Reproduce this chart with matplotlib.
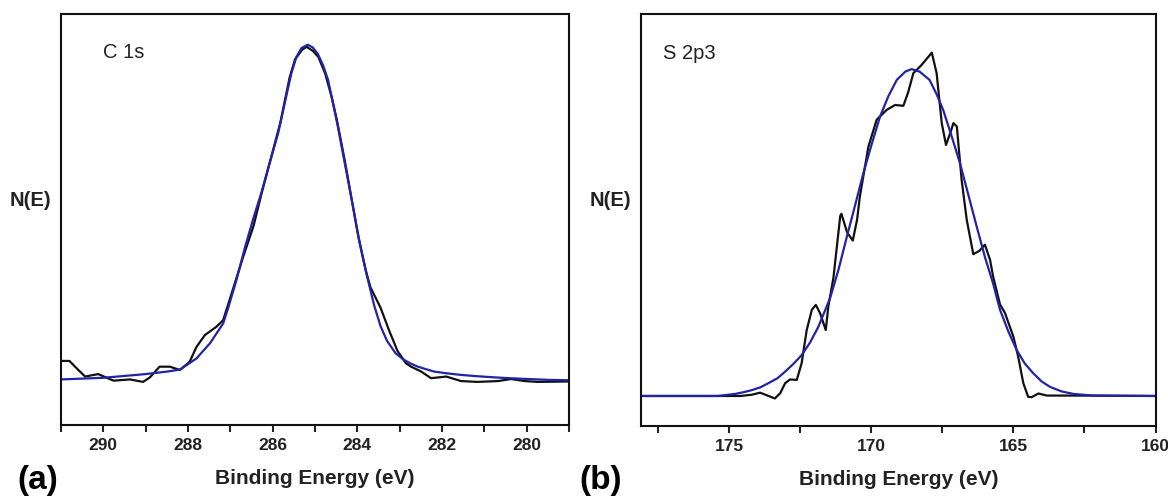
import matplotlib
matplotlib.use("Agg")
import matplotlib.pyplot as plt
from matplotlib.ticker import MultipleLocator

plt.rcParams['font.family'] = ['Liberation Sans', 'DejaVu Sans']

# C 1s: measured spectrum
c1s_be = [291.0, 290.8, 290.6, 290.43, 290.12, 289.76, 289.37, 289.06, 288.9, 288.67,
          288.43, 288.19, 287.96, 287.8, 287.6, 287.33, 287.17, 286.97, 286.71, 286.45,
          286.27, 286.0, 285.82, 285.6, 285.47, 285.3, 285.2, 285.05, 284.92, 284.76,
          284.6, 284.49, 284.3, 284.18, 283.96, 283.8, 283.69, 283.45, 283.25, 283.05,
          282.85, 282.73, 282.49, 282.26, 281.9, 281.55, 281.16, 280.68, 280.37, 280.05,
          279.74, 279.0]
c1s_raw = [15.6, 15.6, 13.5, 11.8, 12.4, 10.8, 11.1, 10.5, 11.6, 14.2,
           14.2, 13.4, 15.4, 19.0, 21.9, 23.9, 25.5, 32.0, 40.5, 48.5,
           56.0, 66.5, 73.5, 84.5, 89.0, 91.3, 92.0, 91.0, 89.5, 85.5,
           79.5, 74.5, 64.5, 57.5, 45.0, 37.5, 33.5, 28.5, 23.0, 18.0,
           15.0, 14.2, 13.0, 11.4, 11.8, 10.7, 10.5, 10.7, 11.2, 10.7,
           10.5, 10.6]

# C 1s: fitted peak
c1s_fit_be = [291.0, 290.0, 289.0, 288.5, 288.19, 287.8, 287.48, 287.17, 287.05, 286.85,
              286.66, 286.45, 286.27, 286.07, 285.87, 285.7, 285.56, 285.44, 285.32, 285.17,
              285.05, 284.93, 284.81, 284.69, 284.58, 284.46, 284.34, 284.22, 284.1, 283.99,
              283.87, 283.75, 283.6, 283.45, 283.3, 283.1, 282.92, 282.75, 282.57, 282.35,
              282.18, 281.9, 281.55, 281.2, 280.76, 280.4, 279.98, 279.5, 279.0]
c1s_fit = [11.1, 11.5, 12.4, 13.0, 13.5, 16.2, 19.9, 24.7, 28.5, 35.5,
           43.0, 50.5, 56.4, 63.8, 71.0, 79.0, 85.5, 89.5, 91.7, 92.5,
           91.8, 90.2, 87.5, 83.9, 78.5, 72.6, 66.0, 59.6, 53.0, 46.6,
           40.8, 35.3, 29.0, 24.0, 20.5, 17.5, 16.0, 15.0, 14.2, 13.5,
           13.0, 12.6, 12.2, 11.9, 11.6, 11.4, 11.2, 11.0, 10.9]

# S 2p3: measured spectrum
s2p_be = [178.1, 174.6, 174.2, 173.91, 173.65, 173.39, 173.2, 173.03, 172.86, 172.62,
          172.45, 172.27, 172.09, 171.95, 171.8, 171.6, 171.51, 171.33, 171.09, 171.05,
          170.85, 170.65, 170.5, 170.4, 170.1, 169.81, 169.46, 169.16, 168.87, 168.7,
          168.52, 168.23, 167.87, 167.7, 167.52, 167.37, 167.2, 167.11, 166.99, 166.82,
          166.64, 166.41, 166.2, 166.0, 165.82, 165.71, 165.47, 165.3, 165.0, 164.83,
          164.65, 164.48, 164.36, 164.12, 163.83, 162.89, 160.0]
s2p_raw = [7.3, 7.3, 7.6, 8.1, 7.4, 6.7, 8.0, 10.4, 11.3, 11.2,
           15.2, 23.3, 28.2, 29.4, 27.4, 23.3, 29.0, 36.0, 51.0, 51.5,
           47.0, 45.0, 50.0, 55.7, 67.8, 74.3, 76.7, 77.9, 77.7, 81.0,
           85.6, 87.6, 90.6, 85.6, 73.5, 68.2, 71.5, 73.5, 72.7, 59.7,
           50.0, 41.7, 42.5, 44.0, 40.3, 36.2, 29.5, 27.5, 21.7, 16.8,
           10.4, 7.1, 7.0, 7.9, 7.4, 7.4, 7.3]

# S 2p3: fitted peak
s2p_fit_be = [178.1, 175.4, 174.79, 174.5, 174.21, 173.9, 173.62, 173.3, 173.03, 172.75,
              172.45, 172.15, 171.86, 171.45, 171.15, 170.86, 170.57, 170.28, 169.98, 169.69,
              169.4, 169.1, 168.8, 168.58, 168.3, 167.95, 167.7, 167.47, 167.18, 166.88,
              166.58, 166.29, 166.0, 165.71, 165.47, 165.18, 164.88, 164.6, 164.3, 164.0,
              163.71, 163.3, 162.89, 162.19, 160.0]
s2p_fit = [7.3, 7.3, 7.8, 8.2, 8.7, 9.4, 10.4, 11.6, 13.2, 15.0,
           17.2, 20.3, 24.1, 31.0, 38.0, 45.9, 53.5, 61.3, 68.5, 75.1,
           80.0, 84.0, 86.0, 86.6, 86.0, 84.0, 80.5, 76.7, 70.5, 63.8,
           56.0, 48.4, 41.0, 34.5, 28.2, 23.0, 18.4, 15.2, 12.8, 10.8,
           9.5, 8.4, 7.8, 7.4, 7.3]

blue = '#2323a8'

fig = plt.figure(figsize=(11.68, 4.96), dpi=100)
ax1 = fig.add_axes([0.0522, 0.143, 0.435, 0.829])
ax2 = fig.add_axes([0.5488, 0.141, 0.4405, 0.831])

panels = [
    (ax1, c1s_be, c1s_raw, c1s_fit_be, c1s_fit, (291.0, 279.0), 2, 1, 'C 1s', 0.083),
    (ax2, s2p_be, s2p_raw, s2p_fit_be, s2p_fit, (178.1, 160.0), 5, 2.5, 'S 2p3', 0.043),
]

for ax, be, raw, fit_be, fit, xlim, major, minor, name, name_x in panels:
    ax.plot(be, raw, color='#111111', lw=1.6)
    ax.plot(fit_be, fit, color=blue, lw=1.6)
    ax.set_xlim(*xlim)
    ax.set_ylim(0, 100)
    ax.xaxis.set_major_locator(MultipleLocator(major))
    ax.xaxis.set_minor_locator(MultipleLocator(minor))
    ax.set_yticks([])
    ax.tick_params(axis='x', which='both', direction='out', length=5, width=1.5, color='#222222')
    ax.tick_params(axis='x', which='major', labelsize=12.5, pad=4)
    for lab in ax.get_xticklabels():
        lab.set_fontweight('bold')
        lab.set_color('#222222')
    for sp in ax.spines.values():
        sp.set_linewidth(1.5)
        sp.set_color('#111111')
    ax.set_xlabel('Binding Energy (eV)', fontsize=15, fontweight='bold', color='#222222', labelpad=12)
    ax.set_ylabel('N(E)', fontsize=14.5, fontweight='bold', rotation=0, ha='center', va='center',
                  color='#222222')
    ax.yaxis.set_label_coords(-0.06, 0.547)
    ax.text(name_x, 0.905, name, transform=ax.transAxes, fontsize=14.5, ha='left', va='center',
            color='#222222')

fig.text(0.0325, 0.032, '(a)', fontsize=24, fontweight='bold', ha='center', va='center')
fig.text(0.5146, 0.032, '(b)', fontsize=24, fontweight='bold', ha='center', va='center')

fig.savefig('out.png', dpi=100)
